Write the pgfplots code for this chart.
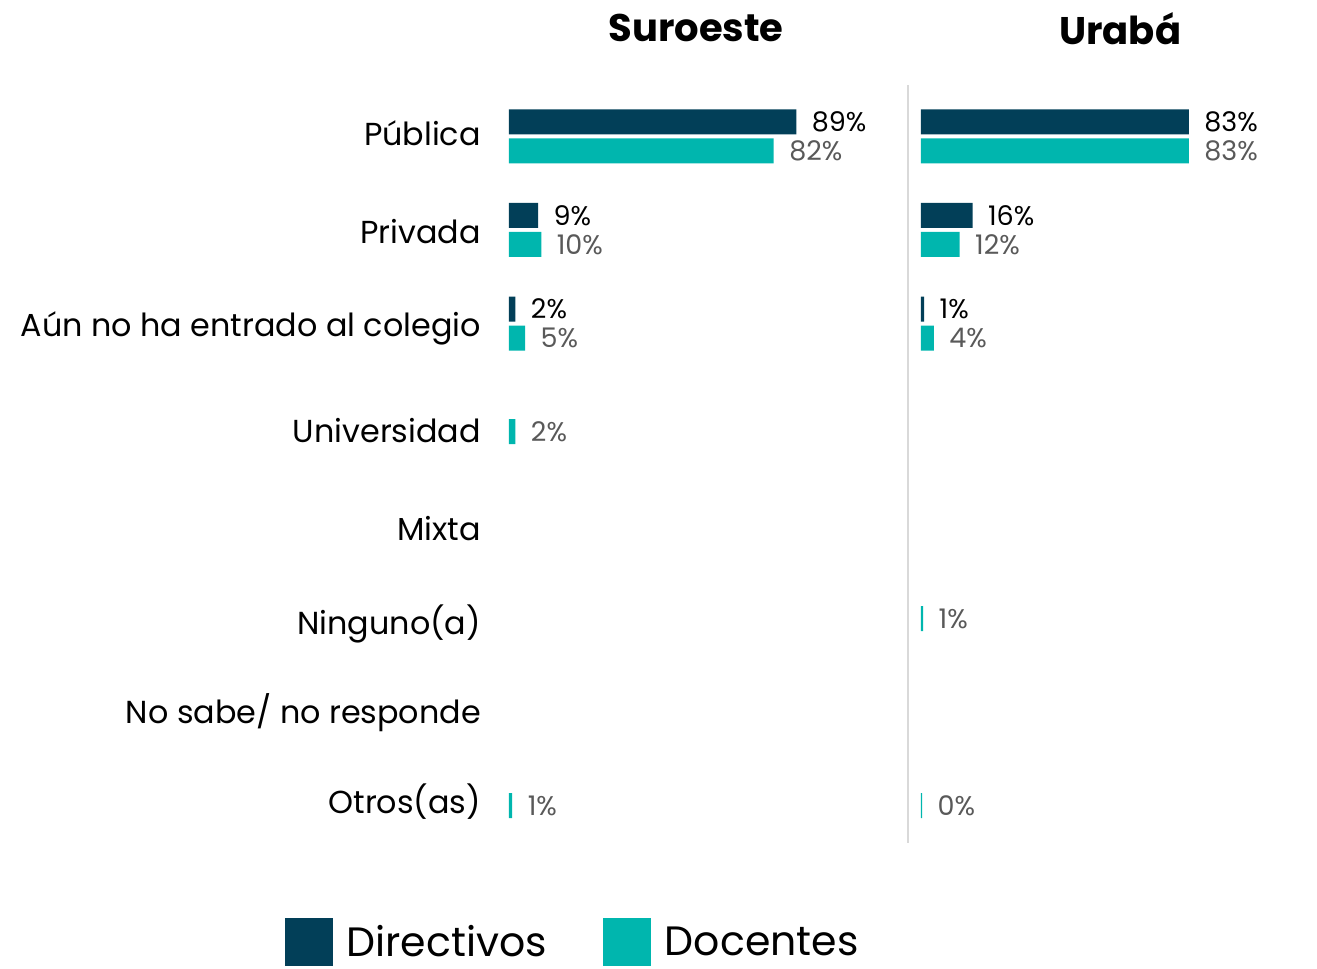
\documentclass[border=0pt]{standalone}
\usepackage{pgfplots}
\pgfplotsset{compat=1.18}
\usepackage{fontspec}
\setmainfont{Poppins}
\definecolor{dir}{HTML}{023F58}
\definecolor{doc}{HTML}{00B6AE}
\definecolor{lab}{HTML}{595959}
\definecolor{sep}{HTML}{D9D9D9}
\begin{document}
\begin{tikzpicture}[x=1pt,y=1pt]
\useasboundingbox (0,0) rectangle (1317,969);
\pgfplotsset{
  panel/.style={
    xbar, scale only axis, height=758pt,
    ymin=-7.55, ymax=0.556,
    bar width=25pt,
    axis x line=none, axis y line*=left,
    major tick length=0pt,
    ytick style={draw=none},
    point meta=explicit symbolic,
    nodes near coords,
    nodes near coords style={anchor=west, xshift=12pt, font=\fontsize{27}{27}\selectfont},
    title style={font=\bfseries\fontsize{38.5}{38.5}\selectfont, anchor=center},
    clip=false,
  },
}
\begin{axis}[panel,
  at={(509pt,126pt)}, anchor=south west,
  width=387.4pt, xmin=0, xmax=120,
  y axis line style={draw=none},
  ytick={0.043,-1.016,-2.045,-3.134,-4.182,-5.209,-6.16,-7.112},
  yticklabels={Pública, Privada, Aún no ha entrado al colegio, Universidad, Mixta, Ninguno(a), No sabe/ no responde, Otros(as)},
  yticklabel style={font=\fontsize{31.8}{31.8}\selectfont, anchor=east, inner sep=0pt, xshift=-28pt},
  title={Suroeste}, title style={at={(0.483,1.067)}},
  legend columns=2,
  legend style={draw=none, fill=none, at={(0.164,-0.130)}, anchor=center,
    font=\fontsize{41}{41}\selectfont,
    /tikz/every odd column/.append style={column sep=12pt},
    /tikz/every even column/.append style={column sep=54pt}},
  legend image code/.code={\fill[#1] (0pt,-24pt) rectangle (48pt,24pt);},
]
\addplot[fill=dir, draw=none, bar shift=15pt, nodes near coords style={text=black}]
  coordinates {(89,0) [89\%] (9,-1) [9\%] (2,-2) [2\%]};
\addlegendentry{Directivos}
\addplot[fill=doc, draw=none, bar shift=-14pt, nodes near coords style={text=lab}]
  coordinates {(82,0) [82\%] (10,-1) [10\%] (5,-2) [5\%] (2,-3) [2\%] (1,-7) [1\%]};
\addlegendentry{Docentes}
\end{axis}
\begin{axis}[panel,
  at={(908pt,126pt)}, anchor=south west,
  width=400.3pt, xmin=-4, xmax=120,
  y axis line style={draw=sep, line width=2.5pt},
  ytick=\empty,
  title={Urabá}, title style={at={(0.53,1.067)}},
]
\addplot[fill=dir, draw=none, bar shift=15pt, nodes near coords style={text=black}]
  coordinates {(83,0) [83\%] (16,-1) [16\%] (1,-2) [1\%]};
\addplot[fill=doc, draw=none, bar shift=-14pt, nodes near coords style={text=lab}]
  coordinates {(83,0) [83\%] (12,-1) [12\%] (4,-2) [4\%] (0.7,-5) [1\%] (0.4,-7) [0\%]};
\end{axis}
\end{tikzpicture}
\end{document}
